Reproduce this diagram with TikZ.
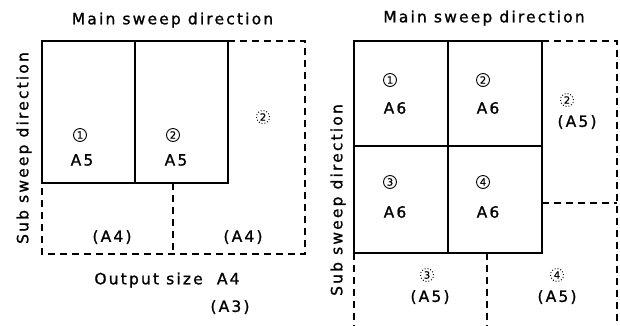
\documentclass[tikz,border=0pt]{standalone}
\usepackage{fontspec}
\setmainfont{DejaVu Sans}
\newfontfamily\labfont{DejaVu Sans}[LetterSpace=14,FakeBold=1.2]
\newfontfamily\digfont{DejaVu Sans}[FakeBold=1]
\begin{document}
\begin{tikzpicture}[x=1pt,y=-1pt,
  solidline/.style={line width=1.6pt},
  dashline/.style={line width=1.4pt,dash pattern=on 7pt off 5pt},
  lab/.style={inner sep=0pt,font=\fontsize{15.5}{18}\labfont},
  cnum/.style={circle,draw,line width=0.9pt,inner sep=0pt,minimum size=13pt,font=\fontsize{10}{10}\digfont},
  dnum/.style={cnum,dotted,line width=1pt}]
\useasboundingbox (0,0) rectangle (620,325);
% ---------- left diagram ----------
\draw[dashline] (228,41) -- (305,41) -- (305,254) -- (42,254) -- (42,183);
\draw[dashline] (173,183) -- (173,254);
\draw[solidline] (42,41) rectangle (228,183);
\draw[solidline] (135,41) -- (135,183);
\node[lab] (lmain) at (172.5,20) {Main sweep direction};
\node[lab,rotate=90] (lsub) at (24,148) {Sub sweep direction};
\node[cnum] (l1) at (80,135) {1};
\node[lab] (l1a) at (82,160) {A5};
\node[cnum] (l2) at (173,135) {2};
\node[lab] (l2a) at (176,160) {A5};
\node[dnum] (l2d) at (263,117) {2};
\node[lab] (la4a) at (112,237) {(A4)};
\node[lab] (la4b) at (243,237) {(A4)};
\node[lab] (lout) at (167,280) {Output size\ \ A4};
\node[lab] (la3) at (230,307) {(A3)};
% ---------- right diagram ----------
\draw[dashline] (542,41) -- (617,41) -- (617,330);
\draw[dashline] (542,203) -- (617,203);
\draw[dashline] (354,253) -- (354,330);
\draw[dashline] (487,253) -- (487,330);
\draw[solidline] (354,41) rectangle (542,253);
\draw[solidline] (448,41) -- (448,253);
\draw[solidline] (354,146) -- (542,146);
\node[lab] (rmain) at (484,18) {Main sweep direction};
\node[lab,rotate=90] (rsub) at (338,200) {Sub sweep direction};
\node[cnum] (r1) at (390,80) {1};
\node[lab] (r1a) at (395,108) {A6};
\node[cnum] (r2) at (483,80) {2};
\node[lab] (r2a) at (488,108) {A6};
\node[cnum] (r3) at (390,182) {3};
\node[lab] (r3a) at (395,212) {A6};
\node[cnum] (r4) at (483,182) {4};
\node[lab] (r4a) at (488,212) {A6};
\node[dnum] (r2d) at (567,100) {2};
\node[lab] (r2b) at (577,122) {(A5)};
\node[dnum] (r3d) at (427,275) {3};
\node[lab] (r3b) at (430,297) {(A5)};
\node[dnum] (r4d) at (557,275) {4};
\node[lab] (r4b) at (557,297) {(A5)};
\end{tikzpicture}
\end{document}
